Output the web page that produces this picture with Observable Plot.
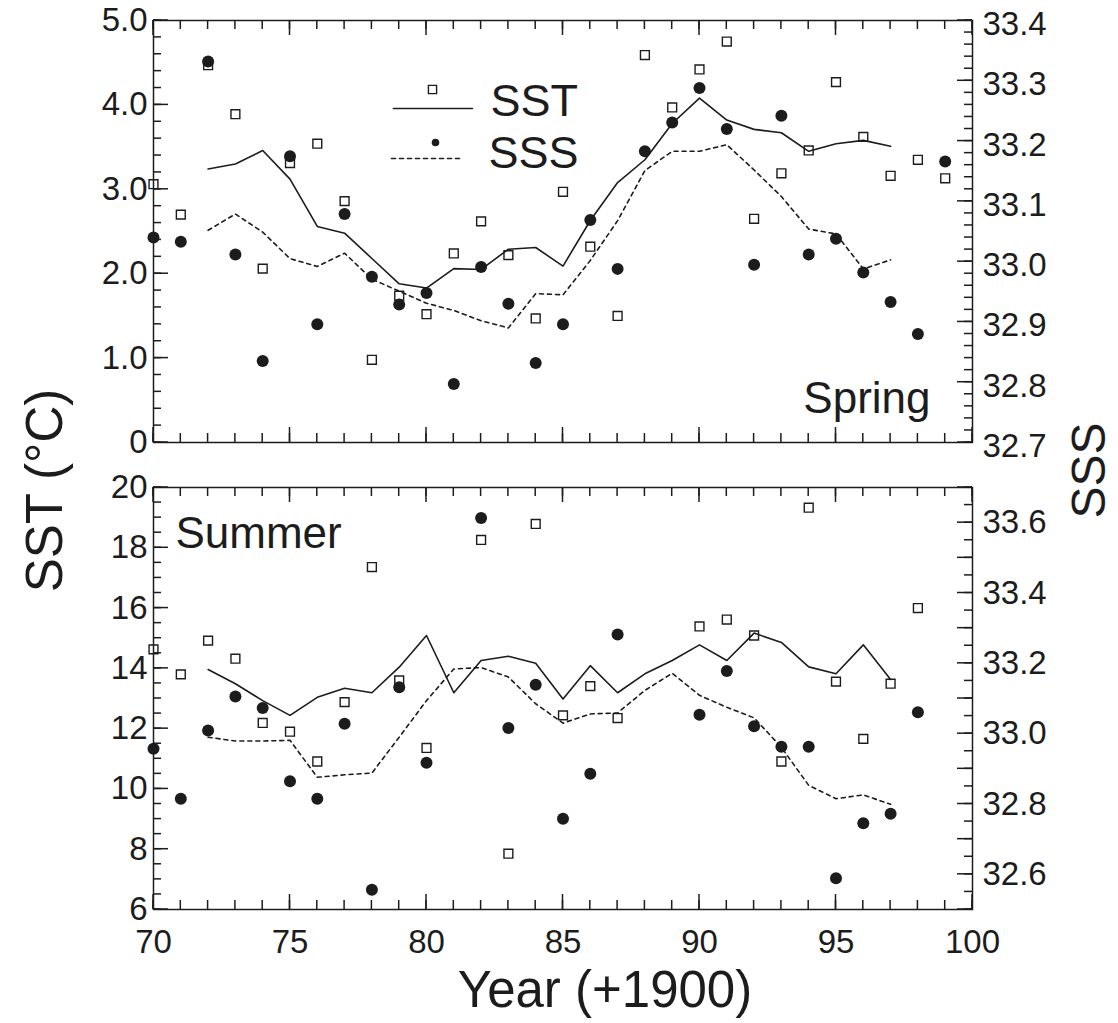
<!DOCTYPE html>
<html>
<head>
<meta charset="utf-8">
<script src="https://cdn.jsdelivr.net/npm/d3@7"></script>
<script src="https://cdn.jsdelivr.net/npm/@observablehq/plot@0.6"></script>
<style>
  body { margin: 0; background: #fff; }
  #wrap { position: relative; width: 1118px; height: 1023px; background: #fff; }
  #wrap svg { position: absolute; left: 0; overflow: visible; }
</style>
</head>
<body>
<div id="wrap"></div>
<script>
// ---------------- DATA ----------------
// Spring panel
const springYears = [70,71,72,73,74,75,76,77,78,79,80,81,82,83,84,85,86,87,88,89,90,91,92,93,94,95,96,97,98,99];
const springSST   = [3.06,2.70,4.47,3.89,2.06,3.31,3.54,2.86,0.98,1.74,1.52,2.24,2.62,2.22,1.47,2.97,2.32,1.50,4.59,3.97,4.42,4.75,2.65,3.19,3.46,4.27,3.62,3.16,3.35,3.13];
const springSSS   = [33.040,33.033,33.332,33.012,32.835,33.175,32.896,33.079,32.975,32.929,32.948,32.797,32.991,32.930,32.832,32.896,33.069,32.988,33.183,33.231,33.288,33.220,32.995,33.242,33.012,33.038,32.982,32.933,32.880,33.166];
const springLineYears = [72,73,74,75,76,77,78,79,80,81,82,83,84,85,86,87,88,89,90,91,92,93,94,95,96,97];
const springSSTLine = [3.24,3.30,3.46,3.12,2.56,2.48,2.18,1.88,1.83,2.06,2.05,2.29,2.31,2.09,2.63,3.08,3.35,3.78,4.08,3.82,3.71,3.67,3.45,3.54,3.58,3.51];
const springSSSLine = [33.052,33.079,33.049,33.005,32.992,33.014,32.971,32.951,32.931,32.919,32.902,32.890,32.947,32.945,33.002,33.068,33.151,33.183,33.183,33.194,33.152,33.108,33.054,33.046,32.988,33.003];

// Summer panel
const summerYears = [70,71,72,73,74,75,76,77,78,79,80,82,83,84,85,86,87,90,91,92,93,94,95,96,97,98];
const summerSST   = [14.63,13.80,14.92,14.32,12.19,11.90,10.91,12.88,17.36,13.60,11.36,18.26,7.85,18.79,12.44,13.41,12.35,15.39,15.62,15.09,10.91,19.33,13.56,11.66,13.49,16.00];
const summerSSS   = [32.957,32.815,33.009,33.106,33.073,32.865,32.815,33.028,32.556,33.132,32.917,33.613,33.016,33.139,32.758,32.886,33.282,33.054,33.178,33.021,32.963,32.963,32.589,32.745,32.772,33.061];
const summerLineYears = [72,73,74,75,76,77,78,79,80,81,82,83,84,85,86,87,88,89,90,91,92,93,94,95,96,97];
const summerSSTLine = [13.96,13.49,12.93,12.44,13.04,13.34,13.19,14.04,15.09,13.19,14.26,14.40,14.17,12.98,14.09,13.19,13.82,14.26,14.78,14.26,15.17,14.86,14.05,13.82,14.78,13.63];
const summerSSSLine = [32.990,32.979,32.979,32.981,32.876,32.883,32.888,32.990,33.094,33.184,33.188,33.161,33.085,33.030,33.056,33.059,33.123,33.172,33.109,33.075,33.045,32.961,32.853,32.815,32.826,32.799];

// Axis ticks / labels
const xTickLabels = [70,75,80,85,90,95,100];
const springSSTTicks = [0,1,2,3,4,5];
const springSSSTicks = [32.7,32.8,32.9,33.0,33.1,33.2,33.3,33.4];
const summerSSTTicks = [6,8,10,12,14,16,18,20];
const summerSSSTicks = [32.6,32.8,33.0,33.2,33.4,33.6];

// ---------------- STYLE ----------------
const FONT = "'Liberation Sans', Arial, Helvetica, sans-serif";
const INK = "#1c1c1c";
const TICKFONT = 33;
const W = 1118, ML = 153, MR = 146;
const XDOM = [70, 100];
const xMinor = d3.range(70, 101, 1);
const lineShape = { draw(context, l) { context.moveTo(0, 0); context.lineTo(0, -l); } };

// inward tick marks placed with the plot's own x / y scales
function addTicks(svg, cfg, conv) {
  const sx = svg.scale("x"), sy = svg.scale("y");
  const X = v => sx.apply(v), Y = v => sy.apply(v);
  const xl = X(XDOM[0]), xr = X(XDOM[1]);
  const yb = Y(cfg.sstDomain[0]), yt = Y(cfg.sstDomain[1]);
  const g = d3.select(svg).append("g").attr("class", "inward-ticks")
    .attr("stroke", INK).attr("stroke-width", 1.5).attr("fill", "none");
  const seg = (x1, y1, x2, y2) => g.append("line")
    .attr("x1", x1).attr("y1", y1).attr("x2", x2).attr("y2", y2);
  const xt = (vals, len) => vals.forEach(v => { const x = X(v); seg(x, yb, x, yb - len); seg(x, yt, x, yt + len); });
  const ytL = (vals, len) => vals.forEach(v => { const y = Y(v); seg(xl, y, xl + len, y); });
  const ytR = (vals, len) => vals.forEach(v => { const y = Y(conv(v)); seg(xr, y, xr - len, y); });
  xt(xMinor, 9); xt(xTickLabels, 15);
  ytL(cfg.leftMinor, 8); ytL(cfg.leftTicks, 15);
  ytR(cfg.rightMinor, 8); ytR(cfg.rightMajor, 15);
}

function panel(cfg) {
  const conv = d3.scaleLinear().domain(cfg.sssDomain).range(cfg.sstDomain);
  const pts = cfg.years.map((year, i) => ({ year, sst: cfg.sst[i], sss: cfg.sss[i] }));
  const ln = cfg.lineYears.map((year, i) => ({ year, sst: cfg.sstLine[i], sss: cfg.sssLine[i] }));
  const marks = [
    Plot.frame({ stroke: INK, strokeWidth: 1.5, fill: "none" }),
    Plot.axisY(cfg.leftTicks, { anchor: "left", tickSize: 0, tickPadding: 6, tickFormat: cfg.leftFmt,
      label: null, fontSize: TICKFONT, fill: INK }),
    Plot.axisY(cfg.rightTicks.map(conv), { anchor: "right", tickSize: 0, tickPadding: 10,
      tickFormat: d => d3.format(".1f")(conv.invert(d)), label: null, fontSize: TICKFONT, fill: INK, dy: cfg.rightDy }),
    cfg.showX
      ? Plot.axisX(xTickLabels, { anchor: "bottom", tickSize: 0, tickPadding: 20, label: null, fontSize: TICKFONT, fill: INK })
      : Plot.axisX({ anchor: "bottom", ticks: [], label: null }),
    Plot.line(ln, { x: "year", y: "sst", stroke: INK, strokeWidth: 1.6 }),
    Plot.line(ln, { x: "year", y: d => conv(d.sss), stroke: INK, strokeWidth: 1.6, strokeDasharray: "4,4" }),
    Plot.dot(pts, { x: "year", y: "sst", symbol: "square", r: 5, stroke: INK, strokeWidth: 1.4, fill: "none" }),
    Plot.dot(pts, { x: "year", y: d => conv(d.sss), r: 6, fill: INK, stroke: null }),
    ...cfg.extra
  ];
  const svg = Plot.plot({
    width: W, height: cfg.height,
    marginLeft: ML, marginRight: MR, marginTop: cfg.marginTop, marginBottom: cfg.marginBottom,
    x: { domain: XDOM },
    y: { domain: cfg.sstDomain },
    style: { fontFamily: FONT, color: INK, background: "transparent", overflow: "visible" },
    marks
  });
  addTicks(svg, cfg, conv);
  return svg;
}

const txt = (s, o) => Plot.text([s], { text: d => d, fill: INK, fontFamily: FONT, ...o });

const springPlot = panel({
  sstDomain: [0, 5], sssDomain: [32.7, 33.4],
  years: springYears, sst: springSST, sss: springSSS,
  lineYears: springLineYears, sstLine: springSSTLine, sssLine: springSSSLine,
  leftTicks: springSSTTicks, leftMinor: d3.range(0, 5.001, 0.2),
  leftFmt: d => d === 0 ? "0" : d3.format(".1f")(d),
  rightTicks: springSSSTicks, rightMajor: springSSSTicks, rightMinor: d3.range(32.7, 33.4001, 0.02),
  rightDy: 4, showX: false,
  height: 462, marginTop: 20, marginBottom: 20,
  extra: [
    Plot.dot([0], { frameAnchor: "top-left", dx: 279, dy: 69, symbol: "square", r: 4.6, stroke: INK, strokeWidth: 1.4, fill: "none" }),
    Plot.vector([0], { frameAnchor: "top-left", dx: 240, dy: 88, rotate: 90, length: 79, anchor: "start", shape: lineShape, stroke: INK, strokeWidth: 1.6 }),
    txt("SST", { frameAnchor: "top-left", dx: 337, dy: 95, textAnchor: "start", lineAnchor: "bottom", fontSize: 45 }),
    Plot.dot([0], { frameAnchor: "top-left", dx: 282, dy: 122, r: 3.8, fill: INK, stroke: null }),
    Plot.vector([0], { frameAnchor: "top-left", dx: 238, dy: 138, rotate: 90, length: 68, anchor: "start", shape: lineShape, stroke: INK, strokeWidth: 1.6, strokeDasharray: "4,4" }),
    txt("SSS", { frameAnchor: "top-left", dx: 335, dy: 147, textAnchor: "start", lineAnchor: "bottom", fontSize: 45 }),
    txt("Spring", { frameAnchor: "bottom-right", dx: -42, dy: -30, textAnchor: "end", lineAnchor: "bottom", fontSize: 44 })
  ]
});

const summerPlot = panel({
  sstDomain: [6, 20], sssDomain: [32.5, 33.7],
  years: summerYears, sst: summerSST, sss: summerSSS,
  lineYears: summerLineYears, sstLine: summerSSTLine, sssLine: summerSSSLine,
  leftTicks: summerSSTTicks, leftMinor: d3.range(6, 20.001, 0.5),
  leftFmt: d => String(d),
  rightTicks: summerSSSTicks, rightMajor: d3.range(32.5, 33.7001, 0.1), rightMinor: d3.range(32.5, 33.7001, 0.05),
  rightDy: 0, showX: true,
  height: 561, marginTop: 25, marginBottom: 114,
  extra: [
    txt("Summer", { frameAnchor: "top-left", dx: 22, dy: 60, textAnchor: "start", lineAnchor: "bottom", fontSize: 44 }),
    txt("Year (+1900)", { frameAnchor: "bottom", dx: 42, dy: 97, textAnchor: "middle", lineAnchor: "bottom", fontSize: 51 }),
    txt("SST (°C)", { frameAnchor: "top-left", dx: -108, dy: 3, rotate: -90, textAnchor: "middle", lineAnchor: "middle", fontSize: 51 }),
    txt("SSS", { frameAnchor: "top-right", dx: 117, dy: -17, rotate: -90, textAnchor: "middle", lineAnchor: "middle", fontSize: 48 })
  ]
});

const wrap = document.getElementById("wrap");
springPlot.style.top = "0px";
summerPlot.style.top = "462px";
wrap.appendChild(springPlot);
wrap.appendChild(summerPlot);
</script>
</body>
</html>
